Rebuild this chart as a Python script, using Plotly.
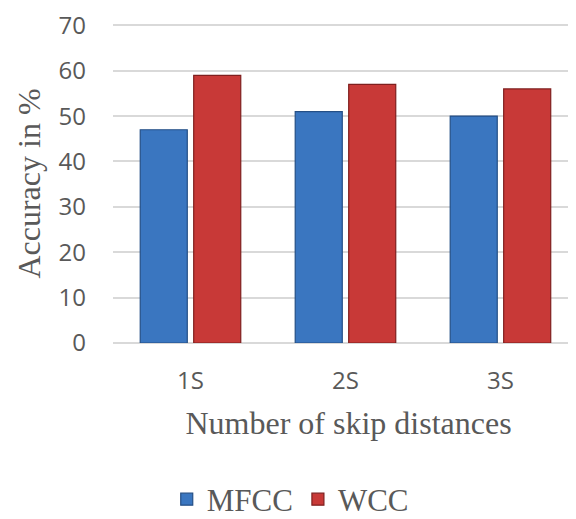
import plotly.graph_objects as go

categories = ["1S", "2S", "3S"]
mfcc = [47, 51, 50]
wcc = [59, 57, 56]
y_ticks = [0, 10, 20, 30, 40, 50, 60, 70]

fig = go.Figure()
fig.add_trace(go.Bar(
    x=categories, y=mfcc, name="MFCC",
    marker=dict(color="#3a76c0", line=dict(color="#244f86", width=1.2)),
))
fig.add_trace(go.Bar(
    x=categories, y=wcc, name="WCC",
    marker=dict(color="#c83937", line=dict(color="#7f1f1e", width=1.2)),
))

fig.update_layout(
    width=576, height=519,
    margin=dict(l=105, r=0, t=14, b=184),
    plot_bgcolor="white", paper_bgcolor="white",
    barmode="group", bargap=0.31, bargroupgap=0.12,
    showlegend=True,
    legend=dict(
        orientation="h", xref="container", x=0.49, xanchor="center",
        yref="container", y=0.053, yanchor="middle",
        font=dict(family="Liberation Serif", size=31, color="#595959"),
        itemwidth=30, traceorder="normal",
    ),
    xaxis=dict(
        range=[-0.5, 2.539],
        tickfont=dict(family="Open Sans", size=24, color="#595959"),
        ticklabelstandoff=21,
        title=dict(text="Number of skip distances",
                   font=dict(family="Liberation Serif", size=32, color="#595959"),
                   standoff=16),
        showgrid=False, showline=False, ticks="",
    ),
    yaxis=dict(
        range=[0, 70.3], tickvals=y_ticks,
        tickfont=dict(family="Open Sans", size=24, color="#595959"),
        ticklabelstandoff=26, ticklabeloverflow="allow",
        title=dict(text="Accuracy in %",
                   font=dict(family="Liberation Serif", size=32, color="#595959"),
                   standoff=8),
        showgrid=True, gridcolor="#d9d9d9", gridwidth=2,
        zeroline=True, zerolinecolor="#d9d9d9", zerolinewidth=2,
        showline=False, ticks="",
    ),
)

fig.write_html("out.html")
